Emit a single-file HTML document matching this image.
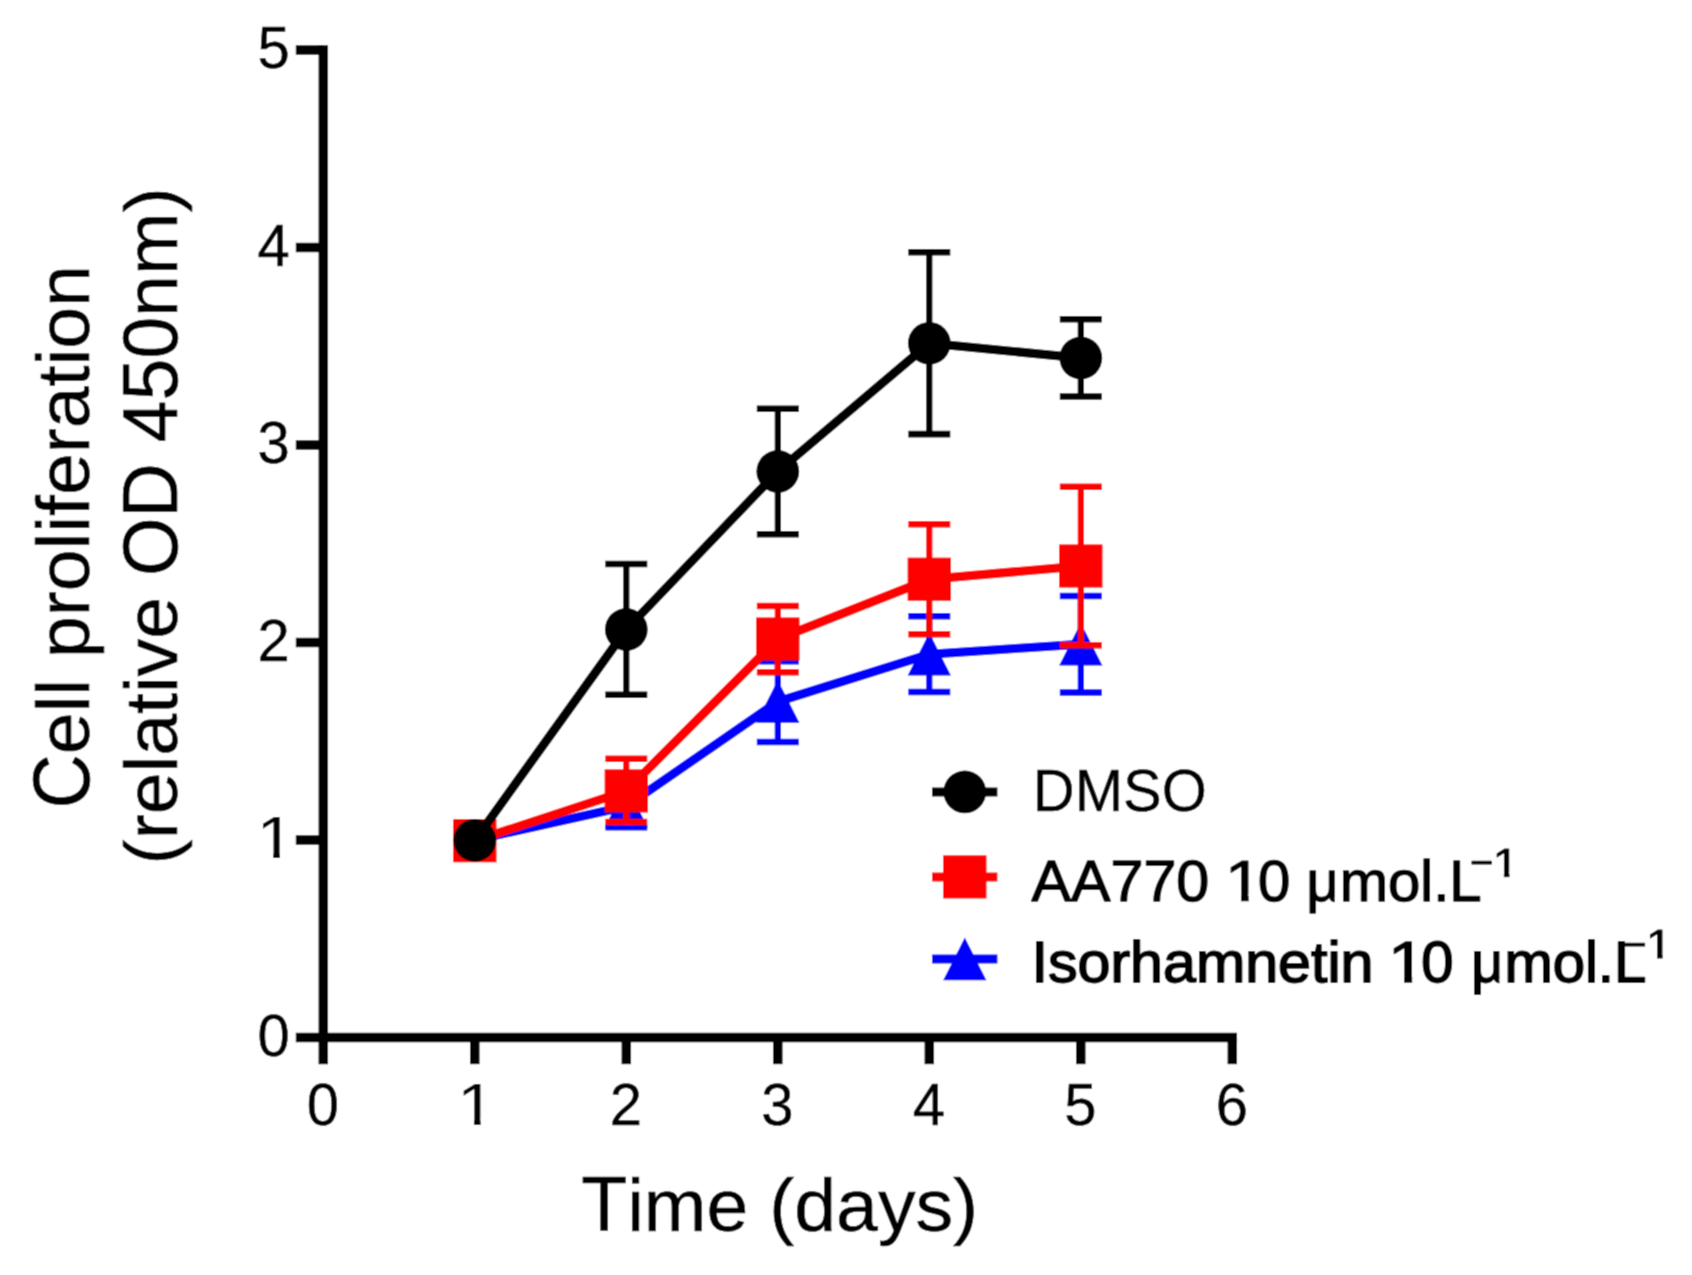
<!DOCTYPE html>
<html lang="en">
<head>
<meta charset="utf-8">
<title>Cell proliferation</title>
<style>
html,body{margin:0;padding:0;background:#fff;}
body{width:1692px;height:1275px;overflow:hidden;}
svg{display:block;}
text{font-family:"Liberation Sans",sans-serif;font-size:100px;font-kerning:none;fill:#000;stroke:#000;stroke-linejoin:round;}
</style>
</head>
<body>
<svg width="1692" height="1275" viewBox="0 0 1692 1275" role="img" aria-label="Cell proliferation (relative OD 450nm) versus Time (days) for DMSO, AA770 10 µmol.L−1 and Isorhamnetin 10 µmol.L−1">
<title>Cell proliferation (relative OD 450nm) versus Time (days)</title>
<desc>Line chart. Y axis: Cell proliferation (relative OD 450nm), ticks 0 1 2 3 4 5. X axis: Time (days), ticks 0 1 2 3 4 5 6. Legend: DMSO; AA770 10 µmol.L−1; Isorhamnetin 10 µmol.L−1.</desc>
<defs><filter id="soft" x="0" y="0" width="1692" height="1275" filterUnits="userSpaceOnUse"><feConvolveMatrix order="3" kernelMatrix="0.0277 0.1110 0.0277 0.1110 0.4452 0.1110 0.0277 0.1110 0.0277" divisor="1" edgeMode="duplicate" preserveAlpha="false"/></filter><clipPath id="one0" clipPathUnits="userSpaceOnUse"><path d="M-3,-85H60V-9.73H34.50V1.08H24.63V-9.73H-3Z"/></clipPath><clipPath id="one1" clipPathUnits="userSpaceOnUse"><path d="M-3,-85H60V-10.68H35.24V1.95H23.89V-10.68H-3Z"/></clipPath><clipPath id="one2" clipPathUnits="userSpaceOnUse"><path d="M-3,-85H60V-11.97H35.50V2.25H23.63V-11.97H-3Z"/></clipPath><clipPath id="one3" clipPathUnits="userSpaceOnUse"><path d="M-3,-85H60V-11.04H35.54V2.31H23.59V-11.04H-3Z"/></clipPath><clipPath id="mu" clipPathUnits="userSpaceOnUse"><path d="M-2,-60H48.9V25H-2Z"/></clipPath></defs>
<g filter="url(#soft)">
<rect width="1692" height="1275" fill="#fff"/>
<g stroke="#000" stroke-width="9.5" fill="none">
<line x1="323.3" y1="45.25" x2="323.3" y2="1064.2"/>
<line x1="295.8" y1="1037.5" x2="1237.05" y2="1037.5"/>
<line x1="295.8" y1="840.0" x2="323.3" y2="840.0"/>
<line x1="295.8" y1="642.5" x2="323.3" y2="642.5"/>
<line x1="295.8" y1="445.0" x2="323.3" y2="445.0"/>
<line x1="295.8" y1="247.5" x2="323.3" y2="247.5"/>
<line x1="295.8" y1="50.0" x2="323.3" y2="50.0"/>
<line x1="474.8" y1="1037.5" x2="474.8" y2="1064.2"/>
<line x1="626.3" y1="1037.5" x2="626.3" y2="1064.2"/>
<line x1="777.8" y1="1037.5" x2="777.8" y2="1064.2"/>
<line x1="929.3" y1="1037.5" x2="929.3" y2="1064.2"/>
<line x1="1080.8" y1="1037.5" x2="1080.8" y2="1064.2"/>
<line x1="1232.3" y1="1037.5" x2="1232.3" y2="1064.2"/>
</g>
<text transform="translate(257.44,1055.90) scale(0.5800,0.5962)" stroke-width="0.86">0</text>
<text transform="translate(256.49,858.40) scale(0.6786,0.5962)" stroke-width="0.17" clip-path="url(#one0)">1</text>
<text transform="translate(257.44,660.90) scale(0.5800,0.5962)" stroke-width="0.86">2</text>
<text transform="translate(257.44,463.40) scale(0.5800,0.5962)" stroke-width="0.86">3</text>
<text transform="translate(257.44,265.90) scale(0.5800,0.5962)" stroke-width="0.86">4</text>
<text transform="translate(257.44,68.40) scale(0.5800,0.5962)" stroke-width="0.86">5</text>
<text transform="translate(306.67,1124.90) scale(0.5800,0.5962)" stroke-width="0.86">0</text>
<text transform="translate(457.22,1124.90) scale(0.6786,0.5962)" stroke-width="0.17" clip-path="url(#one0)">1</text>
<text transform="translate(609.67,1124.90) scale(0.5800,0.5962)" stroke-width="0.86">2</text>
<text transform="translate(761.17,1124.90) scale(0.5800,0.5962)" stroke-width="0.86">3</text>
<text transform="translate(912.67,1124.90) scale(0.5800,0.5962)" stroke-width="0.86">4</text>
<text transform="translate(1064.17,1124.90) scale(0.5800,0.5962)" stroke-width="0.86">5</text>
<text transform="translate(1215.67,1124.90) scale(0.5800,0.5962)" stroke-width="0.86">6</text>
<text transform="translate(581.24,1231.00) scale(0.7520,0.7731)" stroke-width="0.80">T</text><text transform="translate(627.17,1231.00) scale(0.7520,0.7407)" stroke-width="0.80">ime (days)</text>
<text transform="translate(88.90,808.48) rotate(-90) scale(0.7520,0.7956)" stroke-width="0.80">C</text><text transform="translate(88.90,754.17) rotate(-90) scale(0.7520,0.7407)" stroke-width="0.80">ell proliferation</text>
<text transform="translate(176.50,864.41) rotate(-90) scale(0.7520,0.7407)" stroke-width="0.80" xml:space="preserve">(relative </text><text transform="translate(176.50,576.06) rotate(-90) scale(0.7520,0.7731)" stroke-width="0.80">OD 450</text><text transform="translate(176.50,316.90) rotate(-90) scale(0.7520,0.7407)" stroke-width="0.80">nm)</text>
<line x1="626.3" y1="785.3" x2="626.3" y2="827.3" stroke="#0000ff" stroke-width="6.2"/>
<line x1="605.3" y1="785.3" x2="647.3" y2="785.3" stroke="#0000ff" stroke-width="6.6"/>
<line x1="605.3" y1="827.3" x2="647.3" y2="827.3" stroke="#0000ff" stroke-width="6.6"/>
<line x1="777.8" y1="661.1" x2="777.8" y2="742.0" stroke="#0000ff" stroke-width="6.2"/>
<line x1="756.8" y1="661.1" x2="798.8" y2="661.1" stroke="#0000ff" stroke-width="6.6"/>
<line x1="756.8" y1="742.0" x2="798.8" y2="742.0" stroke="#0000ff" stroke-width="6.6"/>
<line x1="929.3" y1="616.3" x2="929.3" y2="692.0" stroke="#0000ff" stroke-width="6.2"/>
<line x1="908.3" y1="616.3" x2="950.3" y2="616.3" stroke="#0000ff" stroke-width="6.6"/>
<line x1="908.3" y1="692.0" x2="950.3" y2="692.0" stroke="#0000ff" stroke-width="6.6"/>
<line x1="1080.8" y1="596.0" x2="1080.8" y2="692.5" stroke="#0000ff" stroke-width="6.2"/>
<line x1="1059.8" y1="596.0" x2="1101.8" y2="596.0" stroke="#0000ff" stroke-width="6.6"/>
<line x1="1059.8" y1="692.5" x2="1101.8" y2="692.5" stroke="#0000ff" stroke-width="6.6"/>
<polyline points="474.8,840.0 626.3,806.3 777.8,701.6 929.3,654.2 1080.8,644.3" fill="none" stroke="#0000ff" stroke-width="9.0" stroke-linejoin="round"/>
<polygon points="474.8,818.5 496.4,861.2 453.2,861.2" fill="#0000ff"/>
<polygon points="626.3,784.8 647.9,827.5 604.7,827.5" fill="#0000ff"/>
<polygon points="777.8,680.1 799.4,722.8 756.2,722.8" fill="#0000ff"/>
<polygon points="929.3,632.7 950.9,675.4 907.7,675.4" fill="#0000ff"/>
<polygon points="1080.8,622.8 1102.4,665.5 1059.2,665.5" fill="#0000ff"/>
<line x1="626.3" y1="758.8" x2="626.3" y2="822.0" stroke="#ff0000" stroke-width="6.2"/>
<line x1="605.3" y1="758.8" x2="647.3" y2="758.8" stroke="#ff0000" stroke-width="6.6"/>
<line x1="605.3" y1="822.0" x2="647.3" y2="822.0" stroke="#ff0000" stroke-width="6.6"/>
<line x1="777.8" y1="606.0" x2="777.8" y2="672.3" stroke="#ff0000" stroke-width="6.2"/>
<line x1="756.8" y1="606.0" x2="798.8" y2="606.0" stroke="#ff0000" stroke-width="6.6"/>
<line x1="756.8" y1="672.3" x2="798.8" y2="672.3" stroke="#ff0000" stroke-width="6.6"/>
<line x1="929.3" y1="524.3" x2="929.3" y2="634.2" stroke="#ff0000" stroke-width="6.2"/>
<line x1="908.3" y1="524.3" x2="950.3" y2="524.3" stroke="#ff0000" stroke-width="6.6"/>
<line x1="908.3" y1="634.2" x2="950.3" y2="634.2" stroke="#ff0000" stroke-width="6.6"/>
<line x1="1080.8" y1="486.8" x2="1080.8" y2="645.2" stroke="#ff0000" stroke-width="6.2"/>
<line x1="1059.8" y1="486.8" x2="1101.8" y2="486.8" stroke="#ff0000" stroke-width="6.6"/>
<line x1="1059.8" y1="645.2" x2="1101.8" y2="645.2" stroke="#ff0000" stroke-width="6.6"/>
<polyline points="474.8,840.7 626.3,790.9 777.8,639.0 929.3,579.2 1080.8,566.0" fill="none" stroke="#ff0000" stroke-width="9.0" stroke-linejoin="round"/>
<rect x="453.1" y="819.1" width="43.4" height="43.2" fill="#ff0000"/>
<rect x="604.6" y="769.3" width="43.4" height="43.2" fill="#ff0000"/>
<rect x="756.1" y="617.4" width="43.4" height="43.2" fill="#ff0000"/>
<rect x="907.6" y="557.6" width="43.4" height="43.2" fill="#ff0000"/>
<rect x="1059.1" y="544.4" width="43.4" height="43.2" fill="#ff0000"/>
<line x1="626.3" y1="564.0" x2="626.3" y2="694.8" stroke="#000000" stroke-width="6.2"/>
<line x1="605.3" y1="564.0" x2="647.3" y2="564.0" stroke="#000000" stroke-width="6.6"/>
<line x1="605.3" y1="694.8" x2="647.3" y2="694.8" stroke="#000000" stroke-width="6.6"/>
<line x1="777.8" y1="408.8" x2="777.8" y2="534.2" stroke="#000000" stroke-width="6.2"/>
<line x1="756.8" y1="408.8" x2="798.8" y2="408.8" stroke="#000000" stroke-width="6.6"/>
<line x1="756.8" y1="534.2" x2="798.8" y2="534.2" stroke="#000000" stroke-width="6.6"/>
<line x1="929.3" y1="252.3" x2="929.3" y2="434.1" stroke="#000000" stroke-width="6.2"/>
<line x1="908.3" y1="252.3" x2="950.3" y2="252.3" stroke="#000000" stroke-width="6.6"/>
<line x1="908.3" y1="434.1" x2="950.3" y2="434.1" stroke="#000000" stroke-width="6.6"/>
<line x1="1080.8" y1="319.3" x2="1080.8" y2="396.5" stroke="#000000" stroke-width="6.2"/>
<line x1="1059.8" y1="319.3" x2="1101.8" y2="319.3" stroke="#000000" stroke-width="6.6"/>
<line x1="1059.8" y1="396.5" x2="1101.8" y2="396.5" stroke="#000000" stroke-width="6.6"/>
<polyline points="474.8,840.3 626.3,629.5 777.8,471.4 929.3,343.3 1080.8,358.0" fill="none" stroke="#000000" stroke-width="9.0" stroke-linejoin="round"/>
<circle cx="474.8" cy="840.3" r="21.4" fill="#000000"/>
<circle cx="626.3" cy="629.5" r="21.4" fill="#000000"/>
<circle cx="777.8" cy="471.4" r="21.4" fill="#000000"/>
<circle cx="929.3" cy="343.3" r="21.4" fill="#000000"/>
<circle cx="1080.8" cy="358.0" r="21.4" fill="#000000"/>
<line x1="932" y1="791.9" x2="997.4" y2="791.9" stroke="#000000" stroke-width="9.0"/><circle cx="964.8" cy="791.9" r="21.4" fill="#000000"/>
<line x1="932" y1="876.9" x2="997.4" y2="876.9" stroke="#ff0000" stroke-width="9.0"/><rect x="943.1" y="855.3" width="43.4" height="43.2" fill="#ff0000"/>
<line x1="932" y1="959.0" x2="997.4" y2="959.0" stroke="#0000ff" stroke-width="9.0"/><polygon points="964.8,937.5 986.4,980.2 943.2,980.2" fill="#0000ff"/>
<text transform="translate(1032.85,810.50) scale(0.5800,0.5962)" stroke-width="0.69">DMSO</text>
<text transform="translate(1031.60,900.50) scale(0.5916,0.5771)" stroke-width="2.59" xml:space="preserve">AA770 </text>
<text transform="translate(1224.75,900.50) scale(0.6786,0.5771)" stroke-width="1.90" clip-path="url(#one1)">1</text><text transform="translate(1257.96,900.50) scale(0.5800,0.5771)" stroke-width="2.59" xml:space="preserve">0 </text><text transform="translate(1306.33,900.50) scale(0.5800,0.5713)" stroke-width="2.59" clip-path="url(#mu)">µ</text><text transform="translate(1339.75,900.50) scale(0.5800,0.5713)" stroke-width="2.59">mol.</text><text transform="translate(1449.32,900.50) scale(0.5800,0.5771)" stroke-width="2.59">L</text>
<text transform="translate(1470.10,875.90) scale(0.4000,0.3940)" stroke-width="2.50">−</text>
<text transform="translate(1492.81,876.60) scale(0.4680,0.4000)" stroke-width="2.50" clip-path="url(#one2)">1</text>
<text transform="translate(1031.50,981.90) scale(0.5916,0.5742)" stroke-width="3.28">I</text><text transform="translate(1047.94,981.90) scale(0.5916,0.5713)" stroke-width="3.28" xml:space="preserve">sorhamnetin </text>
<text transform="translate(1388.05,981.90) scale(0.6786,0.5742)" stroke-width="2.59" clip-path="url(#one3)">1</text><text transform="translate(1421.26,981.90) scale(0.5800,0.5742)" stroke-width="3.28" xml:space="preserve">0 </text>
<text transform="translate(1471.00,981.90) scale(0.5800,0.5713)" stroke-width="3.28" clip-path="url(#mu)">µ</text><text transform="translate(1504.42,981.90) scale(0.5800,0.5713)" stroke-width="3.28">mol.</text><text transform="translate(1613.99,981.90) scale(0.5800,0.5742)" stroke-width="3.28">L</text>
<text transform="translate(1623.30,957.60) scale(0.4000,0.3940)" stroke-width="2.50">−</text>
<text transform="translate(1646.01,958.30) scale(0.4680,0.4000)" stroke-width="2.50" clip-path="url(#one2)">1</text>
</g>
</svg>
</body>
</html>
